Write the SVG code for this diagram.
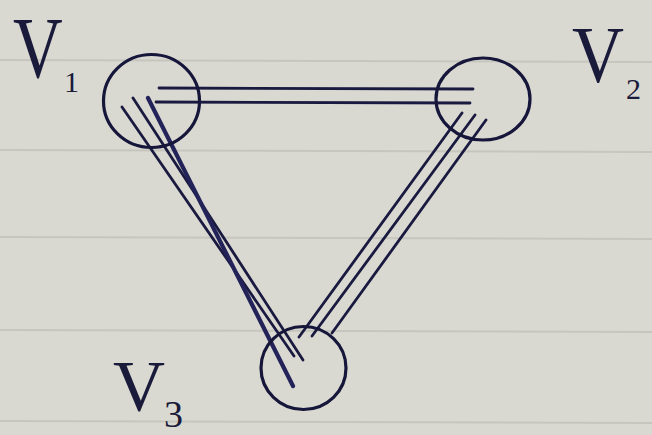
<svg xmlns="http://www.w3.org/2000/svg" width="652" height="435" viewBox="0 0 652 435">
  <style>
    .node { fill: none; stroke: #16163a; stroke-width: 3.2; }
    .edge { fill: none; stroke: #1a1a40; stroke-width: 2.8; stroke-linecap: round; stroke-linejoin: round; }
    .edge-thick { fill: none; stroke: #23235a; stroke-width: 4.2; stroke-linecap: round; }
    .rule { stroke: #c6c6bf; stroke-width: 2; }
    .lbl { font-family: "Liberation Serif", "DejaVu Serif", serif; fill: #1a1a3a; }
  </style>
  <rect x="0" y="0" width="652" height="435" fill="#d9d9d2"/>
  <g id="paper-rules">
    <line class="rule" x1="0" y1="60" x2="652" y2="62"/>
    <line class="rule" x1="0" y1="150" x2="652" y2="152"/>
    <line class="rule" x1="0" y1="237" x2="652" y2="239"/>
    <line class="rule" x1="0" y1="330" x2="652" y2="332"/>
    <line class="rule" x1="0" y1="421" x2="652" y2="423"/>
  </g>
  <g id="connectors">
    <g id="edges-v1-v2">
      <line class="edge" x1="159" y1="88" x2="473" y2="89"/>
      <line class="edge" x1="156" y1="102" x2="470" y2="103"/>
    </g>
    <g id="edges-v1-v3">
      <line class="edge" x1="122" y1="107" x2="294" y2="356"/>
      <line class="edge" x1="133" y1="98" x2="303" y2="360"/>
      <line class="edge-thick" x1="148" y1="98" x2="293" y2="386"/>
    </g>
    <g id="edges-v2-v3">
      <line class="edge" x1="462" y1="113" x2="299" y2="337"/>
      <line class="edge" x1="475" y1="115" x2="312" y2="336"/>
      <line class="edge" x1="486" y1="120" x2="332" y2="333"/>
    </g>
  </g>
  <g id="node-v1">
    <ellipse class="node" cx="151.5" cy="101" rx="48" ry="46.5"/>
    <text class="lbl" x="13" y="77" font-size="86" transform="translate(13 0) scale(0.8 1) translate(-13 0)">V</text>
    <text class="lbl" x="64" y="92" font-size="30">1</text>
  </g>
  <g id="node-v2">
    <ellipse class="node" cx="483" cy="99" rx="47" ry="41"/>
    <text class="lbl" x="572" y="82" font-size="80" transform="translate(572 0) scale(0.9 1) translate(-572 0)">V</text>
    <text class="lbl" x="626" y="99" font-size="30">2</text>
  </g>
  <g id="node-v3">
    <ellipse class="node" cx="303.5" cy="368" rx="42.5" ry="41.5"/>
    <text class="lbl" x="113" y="410" font-size="72">V</text>
    <text class="lbl" x="164" y="427" font-size="38">3</text>
  </g>
</svg>
